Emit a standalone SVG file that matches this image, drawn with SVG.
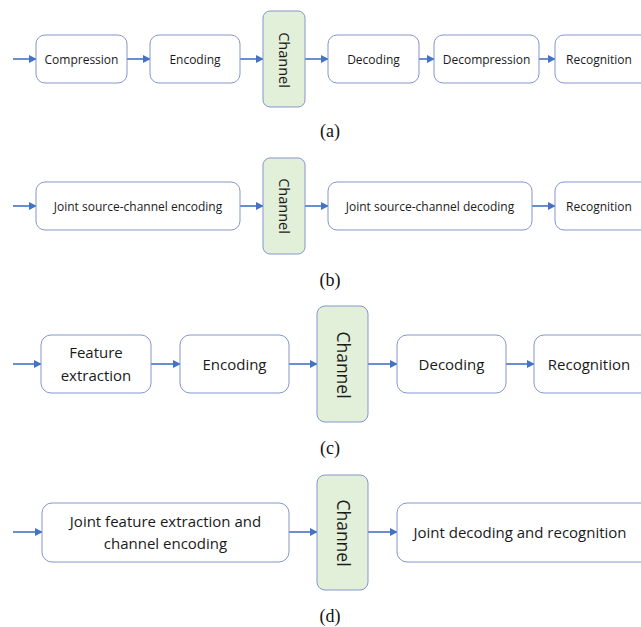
<svg xmlns="http://www.w3.org/2000/svg" width="641" height="627" viewBox="0 0 641 627">
  <defs>
    <marker id="arrow" viewBox="0 0 10 10" refX="9" refY="5" markerWidth="5" markerHeight="5" orient="auto" markerUnits="strokeWidth">
      <path d="M0,0 L10,5 L0,10 z" fill="#4472c4"/>
    </marker>
    <style>
      .box { fill: #ffffff; stroke: #8497cc; stroke-width: 1; }
      .chan { fill: #e2efd9; stroke: #8497cc; stroke-width: 1; }
      .t { font-family: "Open Sans", "Liberation Sans", sans-serif; fill: #1a1a1a; text-anchor: middle; }
      .s { font-size: 12px; }
      .l { font-size: 15px; }
      .cs { font-size: 14.5px; }
      .cl { font-size: 17.5px; }
      .cap { font-family: "Liberation Serif", serif; font-size: 18px; fill: #111; text-anchor: middle; }
      .conn line { stroke: #4472c4; stroke-width: 1.6; marker-end: url(#arrow); }
    </style>
  </defs>
  <rect width="641" height="627" fill="#ffffff"/>

  <!-- Connectors -->
  <g id="connectors" class="conn">
    <!-- (a) -->
    <line x1="13" y1="59" x2="36" y2="59"/>
    <line x1="127" y1="59" x2="150" y2="59"/>
    <line x1="240" y1="59" x2="263" y2="59"/>
    <line x1="305" y1="59" x2="328" y2="59"/>
    <line x1="419" y1="59" x2="434" y2="59"/>
    <line x1="539" y1="59" x2="555" y2="59"/>
    <!-- (b) -->
    <line x1="13" y1="206" x2="36" y2="206"/>
    <line x1="240" y1="206" x2="263" y2="206"/>
    <line x1="305" y1="206" x2="328" y2="206"/>
    <line x1="532" y1="206" x2="555" y2="206"/>
    <!-- (c) -->
    <line x1="13" y1="364" x2="41" y2="364"/>
    <line x1="151" y1="364" x2="180" y2="364"/>
    <line x1="289" y1="364" x2="317" y2="364"/>
    <line x1="368" y1="364" x2="397" y2="364"/>
    <line x1="506" y1="364" x2="534" y2="364"/>
    <!-- (d) -->
    <line x1="13" y1="532" x2="42" y2="532"/>
    <line x1="289" y1="532" x2="317" y2="532"/>
    <line x1="368" y1="532" x2="397" y2="532"/>
  </g>

  <!-- (a) separate compression / coding chain -->
  <g id="a-compression"><rect class="box" x="36" y="35" width="91" height="48" rx="9"/><text class="t s" x="81.5" y="64">Compression</text></g>
  <g id="a-encoding"><rect class="box" x="150" y="35" width="90" height="48" rx="9"/><text class="t s" x="195" y="64">Encoding</text></g>
  <g id="a-channel"><rect class="chan" x="263" y="11" width="42" height="96" rx="7"/><text class="t cs" transform="translate(284,60) rotate(90)" y="5">Channel</text></g>
  <g id="a-decoding"><rect class="box" x="328" y="35" width="91" height="48" rx="9"/><text class="t s" x="373.5" y="64">Decoding</text></g>
  <g id="a-decompression"><rect class="box" x="434" y="35" width="105" height="48" rx="9"/><text class="t s" x="486.5" y="64">Decompression</text></g>
  <g id="a-recognition"><rect class="box" x="555" y="35" width="100" height="48" rx="9"/><text class="t s" x="599" y="64">Recognition</text></g>
  <text class="cap" x="330" y="137">(a)</text>

  <!-- (b) joint source-channel coding -->
  <g id="b-encoding"><rect class="box" x="36" y="182" width="204" height="48" rx="9"/><text class="t s" x="138" y="211">Joint source-channel encoding</text></g>
  <g id="b-channel"><rect class="chan" x="263" y="158" width="42" height="96" rx="7"/><text class="t cs" transform="translate(284,206) rotate(90)" y="5">Channel</text></g>
  <g id="b-decoding"><rect class="box" x="328" y="182" width="204" height="48" rx="9"/><text class="t s" x="430" y="211">Joint source-channel decoding</text></g>
  <g id="b-recognition"><rect class="box" x="555" y="182" width="100" height="48" rx="9"/><text class="t s" x="599" y="211">Recognition</text></g>
  <text class="cap" x="330" y="286">(b)</text>

  <!-- (c) feature-based chain -->
  <g id="c-feature"><rect class="box" x="41" y="335" width="110" height="58" rx="10"/><text class="t l" x="96" y="358">Feature</text><text class="t l" x="96" y="381">extraction</text></g>
  <g id="c-encoding"><rect class="box" x="180" y="335" width="109" height="58" rx="10"/><text class="t l" x="234.5" y="370">Encoding</text></g>
  <g id="c-channel"><rect class="chan" x="317" y="306" width="51" height="116" rx="8"/><text class="t cl" transform="translate(342.5,365) rotate(90)" y="6">Channel</text></g>
  <g id="c-decoding"><rect class="box" x="397" y="335" width="109" height="58" rx="10"/><text class="t l" x="451.5" y="370">Decoding</text></g>
  <g id="c-recognition"><rect class="box" x="534" y="335" width="120" height="58" rx="10"/><text class="t l" x="589" y="370">Recognition</text></g>
  <text class="cap" x="330" y="454">(c)</text>

  <!-- (d) fully joint design -->
  <g id="d-encoding"><rect class="box" x="42" y="503" width="247" height="59" rx="10"/><text class="t l" x="165.5" y="527">Joint feature extraction and</text><text class="t l" x="165.5" y="549">channel encoding</text></g>
  <g id="d-channel"><rect class="chan" x="317" y="475" width="51" height="115" rx="8"/><text class="t cl" transform="translate(342.5,533) rotate(90)" y="6">Channel</text></g>
  <g id="d-decoding"><rect class="box" x="397" y="503" width="260" height="59" rx="10"/><text class="t l" x="520" y="538">Joint decoding and recognition</text></g>
  <text class="cap" x="330" y="622">(d)</text>
</svg>
